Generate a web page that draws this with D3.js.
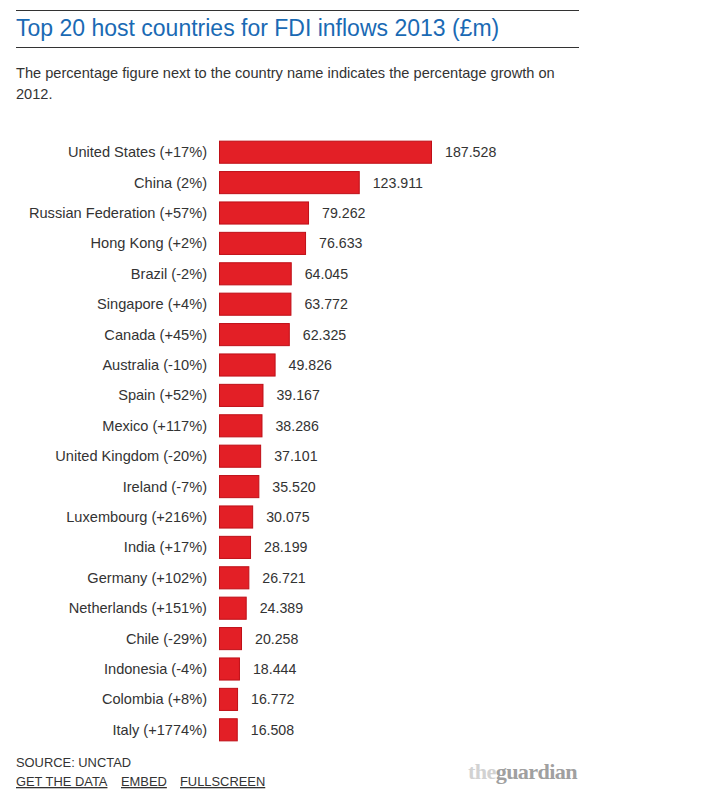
<!DOCTYPE html>
<html>
<head>
<meta charset="utf-8">
<title>FDI inflows 2013</title>
<script src="https://d3js.org/d3.v7.min.js"></script>
<style>
    body { margin: 0; background: #fff; font-family: Arial, "Liberation Sans", sans-serif; }
    .label { font-size: 14.6px; fill: #333; }
    .val { font-size: 14.2px; fill: #333; }
</style>
</head>
<body>
<div id="chart"></div>
<script>
// data
var countries = ["United States (+17%)", "China (2%)", "Russian Federation (+57%)", "Hong Kong (+2%)",
    "Brazil (-2%)", "Singapore (+4%)", "Canada (+45%)", "Australia (-10%)", "Spain (+52%)",
    "Mexico (+117%)", "United Kingdom (-20%)", "Ireland (-7%)", "Luxembourg (+216%)", "India (+17%)",
    "Germany (+102%)", "Netherlands (+151%)", "Chile (-29%)", "Indonesia (-4%)", "Colombia (+8%)",
    "Italy (+1774%)"];
var values = [187.528, 123.911, 79.262, 76.633, 64.045, 63.772, 62.325, 49.826, 39.167, 38.286,
    37.101, 35.520, 30.075, 28.199, 26.721, 24.389, 20.258, 18.444, 16.772, 16.508];
var valueLabels = ["187.528", "123.911", "79.262", "76.633", "64.045", "63.772", "62.325", "49.826",
    "39.167", "38.286", "37.101", "35.520", "30.075", "28.199", "26.721", "24.389", "20.258",
    "18.444", "16.772", "16.508"];

var W = 707, H = 805;
var svg = d3.select("#chart").append("svg")
    .attr("width", W)
    .attr("height", H);

// header
svg.append("line").attr("x1", 16).attr("x2", 579).attr("y1", 10.5).attr("y2", 10.5)
    .style("stroke", "#333").style("stroke-width", 1);
svg.append("text")
    .attr("x", 16).attr("y", 36)
    .style("font-size", "23px")
    .style("fill", "#1a6ab4")
    .text("Top 20 host countries for FDI inflows 2013 (£m)");
svg.append("line").attr("x1", 16).attr("x2", 579).attr("y1", 47.5).attr("y2", 47.5)
    .style("stroke", "#333").style("stroke-width", 1);

svg.append("text").attr("x", 16).attr("y", 78)
    .style("font-size", "14.6px").style("fill", "#333")
    .text("The percentage figure next to the country name indicates the percentage growth on");
svg.append("text").attr("x", 16).attr("y", 99)
    .style("font-size", "14.6px").style("fill", "#333")
    .text("2012.");

// bars
var x = d3.scaleLinear().domain([0, 187.528]).range([219, 432]);
var y = d3.scaleBand().domain(countries).range([137, 745]).paddingInner(0.24).paddingOuter(0.12);

svg.selectAll(".bar")
    .data(values).enter()
    .append("rect")
    .attr("class", "bar")
    .attr("x", x(0) + 0.5)
    .attr("y", function(d, i){ return y(countries[i]) + 0.5; })
    .attr("width", function(d){ return x(d) - x(0) - 1; })
    .attr("height", y.bandwidth() - 1)
    .style("fill", "#e31f26")
    .style("stroke", "#bf0f17")
    .style("stroke-width", 1);

svg.selectAll(".label")
    .data(countries).enter()
    .append("text")
    .attr("class", "label")
    .attr("x", 207)
    .attr("y", function(d){ return y(d) + y.bandwidth()/2 + 5; })
    .style("text-anchor", "end")
    .text(function(d){ return d; });

svg.selectAll(".val")
    .data(values).enter()
    .append("text")
    .attr("class", "val")
    .attr("x", function(d){ return x(d) + 13; })
    .attr("y", function(d, i){ return y(countries[i]) + y.bandwidth()/2 + 5; })
    .text(function(d, i){ return valueLabels[i]; });

// footer
svg.append("text").attr("x", 16).attr("y", 767)
    .style("font-size", "12.9px").style("fill", "#333")
    .text("SOURCE: UNCTAD");

var links = [["GET THE DATA", 16], ["EMBED", 121], ["FULLSCREEN", 180]];
svg.selectAll(".link")
    .data(links).enter()
    .append("text")
    .attr("class", "link")
    .attr("x", function(d){ return d[1]; })
    .attr("y", 786)
    .style("font-size", "12.9px").style("fill", "#333")
    .style("text-decoration", "underline")
    .text(function(d){ return d[0]; });

var logo = svg.append("text").attr("x", 468).attr("y", 779)
    .style("font-family", "'Liberation Serif', 'DejaVu Serif', serif")
    .style("font-weight", "bold")
    .style("font-size", "21px")
    .style("letter-spacing", "-0.6px")
    .attr("textLength", 109)
    .attr("lengthAdjust", "spacingAndGlyphs");
logo.append("tspan").style("fill", "#d2d2d2").text("the");
logo.append("tspan").style("fill", "#a0a0a0").text("guardian");
</script>
</body>
</html>
